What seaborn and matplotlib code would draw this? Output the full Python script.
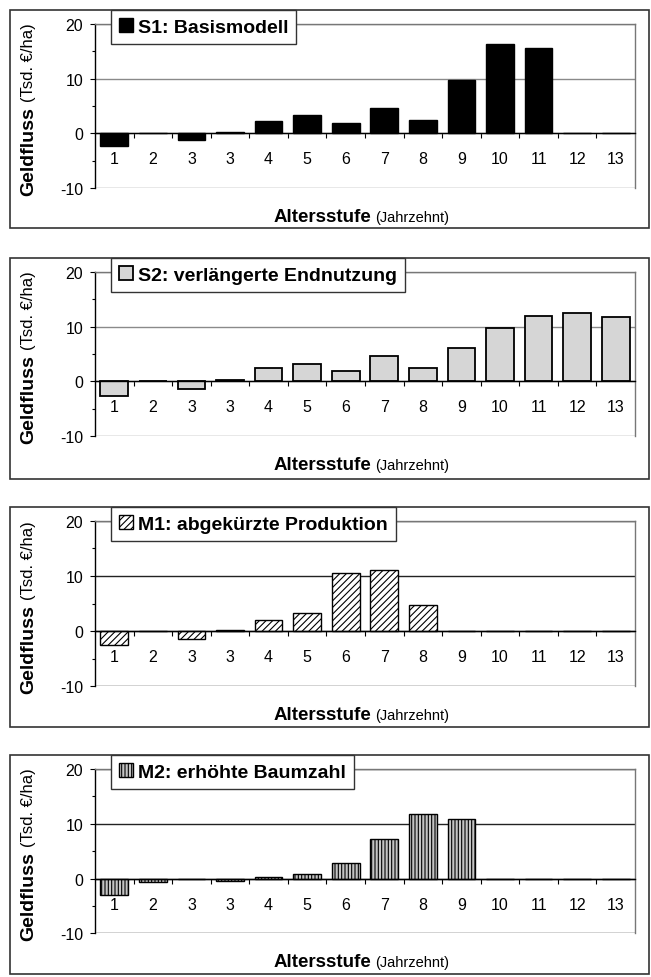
import numpy as np
import pandas as pd
import matplotlib
matplotlib.use("Agg")
import matplotlib.pyplot as plt
import seaborn as sns
from matplotlib.patches import Rectangle, Patch
from matplotlib.ticker import FixedLocator, FixedFormatter, NullFormatter
from matplotlib.font_manager import FontProperties

# ---------------- data ----------------
stufen = ["1", "2", "3", "3", "4", "5", "6", "7", "8", "9", "10", "11", "12", "13"]
s1_basismodell = [-2.4, 0, -1.3, 0.3, 2.2, 3.3, 1.9, 4.7, 2.5, 9.7, 16.4, 15.7, 0, 0]
s2_endnutzung = [-2.6, 0, -1.4, 0.2, 2.4, 3.1, 1.9, 4.7, 2.5, 6.1, 9.7, 11.9, 12.4, 11.8]
m1_produktion = [-2.6, 0, -1.5, 0.2, 2.0, 3.2, 10.6, 11.0, 4.7, 0, 0, 0, 0, 0]
m2_baumzahl = [-3.0, -0.7, 0, -0.5, 0.3, 0.8, 2.8, 7.3, 11.7, 10.8, 0, 0, 0, 0]
serien = ["S1: Basismodell", "S2: verlängerte Endnutzung",
          "M1: abgekürzte Produktion", "M2: erhöhte Baumzahl"]
werte = [s1_basismodell, s2_endnutzung, m1_produktion, m2_baumzahl]
y_ticks = [-10, 0, 10, 20]
y_minor = [-5, 5, 15]
y_label_main, y_label_unit = "Geldfluss", "(Tsd. €/ha)"
x_label_main, x_label_unit = "Altersstufe", "(Jahrzehnt)"

# ---------------- style ----------------
plt.rcParams["font.family"] = ["Liberation Sans", "DejaVu Sans"]
plt.rcParams["axes.unicode_minus"] = False
plt.rcParams["hatch.linewidth"] = 0.8

styles = [
    dict(fill="black", hatch=None, lw=1.0, grid="#8a8a8a"),
    dict(fill="#d6d6d6", hatch=None, lw=1.3, grid="#8a8a8a"),
    dict(fill="white", hatch="/////", lw=1.0, grid="#222222"),
    dict(fill="#c4c4c4", hatch="|||||", lw=1.0, grid="#222222"),
]
# outer top, outer bottom, axes top, axes bottom (pixels from top)
layout = [
    (11, 229, 25, 189),
    (259, 480, 272.7, 437.3),
    (508, 728, 521.7, 687.3),
    (756, 975, 770, 934.3),
]

W, H = 651, 978
fig = plt.figure(figsize=(W / 100, H / 100), dpi=100)
fig.patch.set_facecolor("white")


def fx(px):
    return px / W


def fy(py):
    return 1 - py / H


AX_L, AX_R = 95, 635
renderer = fig.canvas.get_renderer()

for i, (name, vals, st, (ot, ob, at, ab)) in enumerate(zip(serien, werte, styles, layout)):
    # outer frame
    fig.add_artist(Rectangle((fx(10), fy(ob)), (649 - 10) / W, (ob - ot) / H,
                             transform=fig.transFigure, fill=False,
                             edgecolor="#333333", lw=1.2, zorder=0))
    ax = fig.add_axes([fx(AX_L), fy(ab), (AX_R - AX_L) / W, (ab - at) / H])
    ax.set_facecolor("none")
    df = pd.DataFrame({"pos": np.arange(len(stufen)), "wert": vals})
    sns.barplot(data=df, x="pos", y="wert", ax=ax, width=0.72, color=st["fill"],
                saturation=1, edgecolor="black", linewidth=st["lw"],
                hatch=st["hatch"], errorbar=None, zorder=3)
    ax.set_xlim(-0.5, len(stufen) - 0.5)
    ax.set_ylim(-10, 20)
    ax.set_xlabel("")
    ax.set_ylabel("")

    ax.spines["bottom"].set_position(("data", 0))
    ax.spines["bottom"].set_color("black")
    ax.spines["bottom"].set_linewidth(1.0)
    ax.spines["bottom"].set_zorder(4)
    ax.spines["left"].set_color("black")
    ax.spines["left"].set_linewidth(1.0)
    for s in ["top", "right"]:
        ax.spines[s].set_color("#777777")
        ax.spines[s].set_linewidth(1.0)

    ax.xaxis.set_major_locator(FixedLocator(np.arange(0.5, len(stufen) - 1, 1)))
    ax.xaxis.set_major_formatter(NullFormatter())
    ax.xaxis.set_minor_locator(FixedLocator(np.arange(len(stufen))))
    ax.xaxis.set_minor_formatter(FixedFormatter(stufen))
    ax.tick_params(axis="x", which="major", direction="out", length=3.6,
                   width=0.8, color="black")
    ax.tick_params(axis="x", which="minor", length=0, pad=13, labelsize=11.5)

    ax.yaxis.set_major_locator(FixedLocator(y_ticks))
    ax.yaxis.set_minor_locator(FixedLocator(y_minor))
    ax.tick_params(axis="y", which="major", direction="out", length=3.6,
                   width=0.8, pad=5, labelsize=11.5)
    ax.tick_params(axis="y", which="minor", direction="out", length=2.5, width=0.8)
    ax.yaxis.grid(True, which="major", color=st["grid"], lw=1.0)
    ax.set_axisbelow(True)

    handle = Patch(facecolor=st["fill"], edgecolor="black", hatch=st["hatch"],
                   linewidth=st["lw"], label=name)
    leg = ax.legend(handles=[handle], loc="upper left",
                    bbox_to_anchor=(fx(111), fy(ot)), bbox_transform=fig.transFigure,
                    borderaxespad=0, frameon=True, fancybox=False,
                    edgecolor="#333333", framealpha=1, facecolor="white",
                    prop=FontProperties(family="Liberation Sans", weight="bold", size=14),
                    handlelength=0.7, handleheight=0.7, handletextpad=0.25,
                    borderpad=0.42)
    leg.get_frame().set_linewidth(1.0)
    leg.set_zorder(10)

    # y label: bold main + regular unit, rotated
    t1 = fig.text(fx(33), fy(ab + 7), y_label_main, rotation=90, rotation_mode="anchor",
                  ha="left", va="baseline", fontsize=14, fontweight="bold")
    bb = t1.get_window_extent(renderer)
    fig.text(fx(33), (bb.y1 + 5) / H, y_label_unit, rotation=90, rotation_mode="anchor",
             ha="left", va="baseline", fontsize=12)

    # x label: bold main + regular unit
    t3 = fig.text(fx(274), fy(ab + 33), x_label_main, ha="left", va="baseline",
                  fontsize=13.5, fontweight="bold")
    bb3 = t3.get_window_extent(renderer)
    fig.text((bb3.x1 + 3) / W, fy(ab + 33), x_label_unit, ha="left", va="baseline",
             fontsize=10.5)

fig.savefig("out.png", dpi=100, facecolor="white")
